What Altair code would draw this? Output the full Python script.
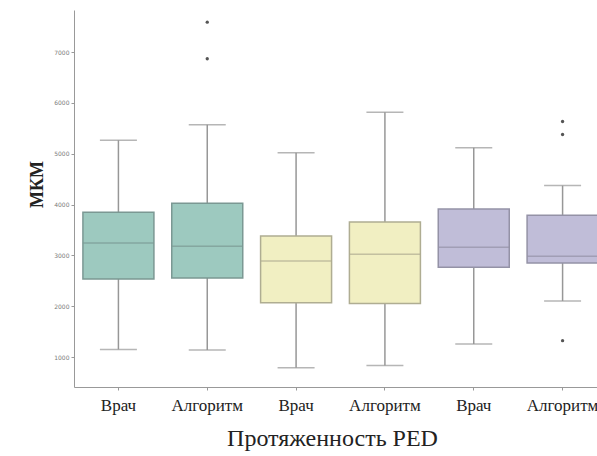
import json
import altair as alt
import pandas as pd

# ---- data ----
groups = ["0", "1", "2", "3", "4", "5"]
labels = ["Врач", "Алгоритм", "Врач", "Алгоритм", "Врач", "Алгоритм"]
pairs = ["A", "A", "B", "B", "C", "C"]
w_low = [1150, 1138, 789, 834, 1257, 2103]
q1 = [2536, 2556, 2069, 2055, 2765, 2851]
median = [3245, 3178, 2891, 3021, 3159, 2982]
q3 = [3848, 4026, 3383, 3659, 3915, 3789]
w_high = [5267, 5570, 5018, 5818, 5117, 4374]
out_group = ["1", "1", "5", "5", "5"]
out_value = [7591, 6870, 5635, 5379, 1321]
y_ticks = [1000, 2000, 3000, 4000, 5000, 6000, 7000]

pair_domain = ["A", "B", "C"]
fill_colors = ["#9dc9bf", "#f1efc2", "#c0bdd8"]
edge_colors = ["#7b9893", "#afad92", "#9492a6"]

df = pd.DataFrame({
    "g": groups, "pair": pairs, "lo": w_low, "q1": q1,
    "med": median, "q3": q3, "hi": w_high,
})
df_out = pd.DataFrame({"g": out_group, "v": out_value})

label_expr = json.dumps(labels, ensure_ascii=False) + "[toNumber(datum.value)]"

x_enc = alt.X(
    "g:N", sort=groups,
    scale=alt.Scale(type="band", domain=groups, range=[0, 533],
                    paddingInner=0, paddingOuter=0),
    axis=alt.Axis(
        title="Протяженность PED", labelExpr=label_expr, labelAngle=0,
        labelFont="Liberation Serif", labelFontSize=17, labelColor="#222222",
        labelPadding=7, tickSize=3, tickColor="#999999", domainColor="#999999",
        titleFont="Liberation Serif", titleFontSize=24, titleFontWeight="normal",
        titleColor="#222222", titleX=258, titleY=58, titleBaseline="alphabetic",
        grid=False,
    ),
)
y_scale = alt.Scale(domain=[410, 7830], nice=False, zero=False)
y_axis = alt.Axis(
    title="МКМ", values=y_ticks, format="d", grid=False,
    labelFont="DejaVu Sans", labelFontSize=6, labelColor="#7a7a7a",
    labelPadding=2, tickSize=3, tickColor="#999999", domainColor="#999999",
    titleFont="Liberation Serif", titleFontSize=18, titleFontWeight="bold",
    titleColor="#222222", titleAngle=-90, titleX=-37, titleY=174,
    titleAlign="center", titleBaseline="middle",
)
fill_scale = alt.Scale(domain=pair_domain, range=fill_colors)
edge_scale = alt.Scale(domain=pair_domain, range=edge_colors)

base = alt.Chart(df)

whisker = base.mark_rule(color="#979797", strokeWidth=1.5).encode(
    x=x_enc, y=alt.Y("lo:Q", scale=y_scale, axis=y_axis), y2="hi:Q")

caps_lo = base.mark_tick(color="#979797", size=37, thickness=1.5).encode(
    x=x_enc, y=alt.Y("lo:Q"))
caps_hi = base.mark_tick(color="#979797", size=37, thickness=1.5).encode(
    x=x_enc, y=alt.Y("hi:Q"))

box = base.mark_bar(size=71, strokeWidth=1.5).encode(
    x=x_enc, y=alt.Y("q1:Q"), y2="q3:Q",
    fill=alt.Fill("pair:N", scale=fill_scale, legend=None),
    stroke=alt.Stroke("pair:N", scale=edge_scale, legend=None),
)

med = base.mark_tick(size=71, thickness=1.5).encode(
    x=x_enc, y=alt.Y("med:Q"),
    color=alt.Color("pair:N", scale=edge_scale, legend=None),
)

outliers = alt.Chart(df_out).mark_point(
    filled=True, size=11, color="#555555", opacity=1).encode(
    x=x_enc, y=alt.Y("v:Q"))

chart = alt.layer(whisker, caps_lo, caps_hi, box, med, outliers).resolve_scale(
    color="independent"
).properties(
    width=523, height=377,
    autosize=alt.AutoSizeParams(type="none"),
    padding={"left": 74, "top": 10, "right": 0, "bottom": 69},
    background="white",
).configure_view(stroke=None)

chart.save("out.html", embed_options={"renderer": "svg", "actions": False})
